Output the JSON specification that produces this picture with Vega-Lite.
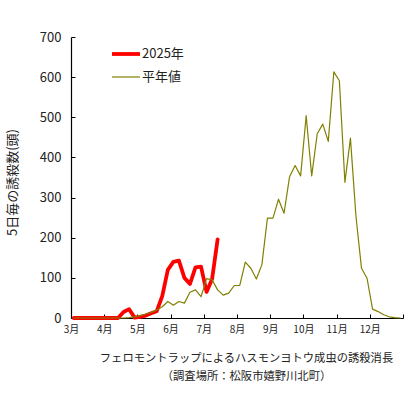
{
  "$schema": "https://vega.github.io/schema/vega-lite/v6.json",
  "width": 332,
  "height": 281,
  "autosize": "none",
  "padding": {"left": 71, "top": 37, "right": 17, "bottom": 76},
  "background": "white",
  "config": {"view": {"stroke": null}, "font": "Noto Sans CJK JP"},
  "data": {"values": [
    {"i":0,"series":"2025年","value":0},{"i":1,"series":"2025年","value":0},{"i":2,"series":"2025年","value":0},{"i":3,"series":"2025年","value":0},{"i":4,"series":"2025年","value":0},{"i":5,"series":"2025年","value":0},{"i":6,"series":"2025年","value":0},{"i":7,"series":"2025年","value":0},{"i":8,"series":"2025年","value":0},{"i":9,"series":"2025年","value":15},{"i":10,"series":"2025年","value":22},{"i":11,"series":"2025年","value":1},{"i":12,"series":"2025年","value":3},{"i":13,"series":"2025年","value":6},{"i":14,"series":"2025年","value":12},{"i":15,"series":"2025年","value":17},{"i":16,"series":"2025年","value":55},{"i":17,"series":"2025年","value":120},{"i":18,"series":"2025年","value":140},{"i":19,"series":"2025年","value":143},{"i":20,"series":"2025年","value":100},{"i":21,"series":"2025年","value":85},{"i":22,"series":"2025年","value":126},{"i":23,"series":"2025年","value":128},{"i":24,"series":"2025年","value":65},{"i":25,"series":"2025年","value":97},{"i":26,"series":"2025年","value":196},
    {"i":0,"series":"平年値","value":0},{"i":1,"series":"平年値","value":0},{"i":2,"series":"平年値","value":0},{"i":3,"series":"平年値","value":0},{"i":4,"series":"平年値","value":0},{"i":5,"series":"平年値","value":0},{"i":6,"series":"平年値","value":0},{"i":7,"series":"平年値","value":0},{"i":8,"series":"平年値","value":0},{"i":9,"series":"平年値","value":0},{"i":10,"series":"平年値","value":1},{"i":11,"series":"平年値","value":3},{"i":12,"series":"平年値","value":6},{"i":13,"series":"平年値","value":10},{"i":14,"series":"平年値","value":14},{"i":15,"series":"平年値","value":20},{"i":16,"series":"平年値","value":28},{"i":17,"series":"平年値","value":41},{"i":18,"series":"平年値","value":32},{"i":19,"series":"平年値","value":41},{"i":20,"series":"平年値","value":37},{"i":21,"series":"平年値","value":64},{"i":22,"series":"平年値","value":70},{"i":23,"series":"平年値","value":53},{"i":24,"series":"平年値","value":98},{"i":25,"series":"平年値","value":95},{"i":26,"series":"平年値","value":70},{"i":27,"series":"平年値","value":57},{"i":28,"series":"平年値","value":62},{"i":29,"series":"平年値","value":81},{"i":30,"series":"平年値","value":81},{"i":31,"series":"平年値","value":139},{"i":32,"series":"平年値","value":124},{"i":33,"series":"平年値","value":97},{"i":34,"series":"平年値","value":133},{"i":35,"series":"平年値","value":249},{"i":36,"series":"平年値","value":249},{"i":37,"series":"平年値","value":296},{"i":38,"series":"平年値","value":261},{"i":39,"series":"平年値","value":352},{"i":40,"series":"平年値","value":380},{"i":41,"series":"平年値","value":354},{"i":42,"series":"平年値","value":504},{"i":43,"series":"平年値","value":354},{"i":44,"series":"平年値","value":459},{"i":45,"series":"平年値","value":483},{"i":46,"series":"平年値","value":440},{"i":47,"series":"平年値","value":613},{"i":48,"series":"平年値","value":591},{"i":49,"series":"平年値","value":338},{"i":50,"series":"平年値","value":448},{"i":51,"series":"平年値","value":253},{"i":52,"series":"平年値","value":124},{"i":53,"series":"平年値","value":99},{"i":54,"series":"平年値","value":22},{"i":55,"series":"平年値","value":16},{"i":56,"series":"平年値","value":8},{"i":57,"series":"平年値","value":3},{"i":58,"series":"平年値","value":1},{"i":59,"series":"平年値","value":0}
  ]},
  "mark": {"type": "line", "strokeJoin": "round", "strokeCap": "round"},
  "encoding": {
    "x": {
      "field": "i", "type": "quantitative",
      "scale": {"domain": [-0.5, 59.5], "nice": false, "zero": false},
      "axis": {
        "values": [-0.5, 5.5, 11.5, 17.5, 23.5, 29.5, 35.5, 41.5, 47.5, 53.5, 59.5],
        "labelExpr": "datum.value > 59 ? '' : (round((datum.value + 0.5) / 6) + 3) + '月'",
        "grid": false, "domainColor": "#000", "domainWidth": 1.2,
        "ticks": true, "tickColor": "#000", "tickSize": -4, "tickWidth": 1,
        "labelFontSize": 10, "labelColor": "#222", "labelPadding": 10, "labelDx": 2, "labelFlush": false,
        "title": ["フェロモントラップによるハスモンヨトウ成虫の誘殺消長", "（調査場所：松阪市嬉野川北町）"],
        "titleFontSize": 11.3, "titleFontWeight": "normal", "titleColor": "#222",
        "titleX": 175, "titleY": 34, "titleAlign": "center", "titleBaseline": "top", "titleLineHeight": 18
      }
    },
    "y": {
      "field": "value", "type": "quantitative",
      "scale": {"domain": [0, 700], "nice": false},
      "axis": {
        "values": [0, 100, 200, 300, 400, 500, 600, 700],
        "grid": false, "domainColor": "#000", "domainWidth": 1.2,
        "ticks": true, "tickColor": "#000", "tickSize": -4, "tickWidth": 1,
        "labelFontSize": 13, "labelColor": "#222", "labelPadding": 14,
        "title": "5日毎の誘殺数(頭)", "titleFontSize": 13, "titleFontWeight": "normal", "titleColor": "#222",
        "titleX": -59, "titleY": 145, "titleAngle": -90, "titleAlign": "center", "titleBaseline": "middle"
      }
    },
    "color": {
      "field": "series", "type": "nominal",
      "scale": {"domain": ["2025年", "平年値"], "range": ["#ff0000", "#808000"]},
      "legend": {
        "title": null, "orient": "none", "legendX": 39, "legendY": 1, "padding": 0,
        "symbolType": "stroke", "symbolSize": 784, "rowPadding": -3, "labelOffset": 0,
        "labelFontSize": 13, "labelColor": "#222",
        "encode": {"symbols": {"update": {"strokeWidth": {"signal": "datum.value === '2025年' ? 4 : 1.2"}}}}
      }
    },
    "strokeWidth": {
      "field": "series", "type": "nominal",
      "scale": {"domain": ["2025年", "平年値"], "range": [3.8, 1.2]},
      "legend": null
    }
  }
}
